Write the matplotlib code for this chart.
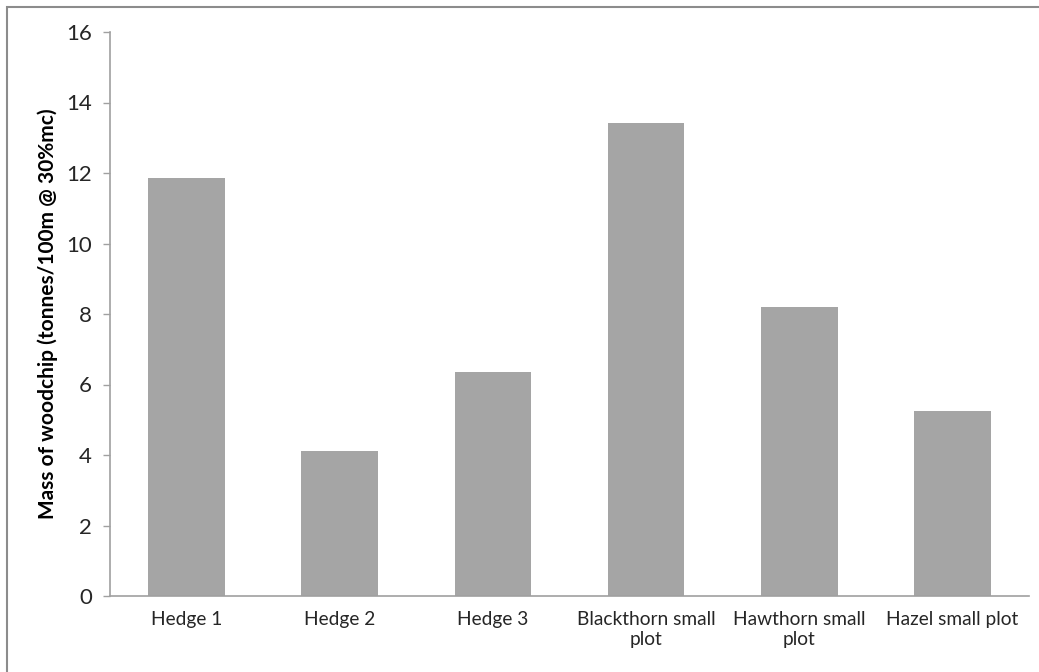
import matplotlib.pyplot as plt
from matplotlib.patches import Rectangle

plt.rcParams['font.family'] = ['Lato', 'DejaVu Sans']

# woodchip yield per site
sites = ['Hedge 1', 'Hedge 2', 'Hedge 3', 'Blackthorn small\nplot',
         'Hawthorn small\nplot', 'Hazel small plot']
mass = [11.87, 4.12, 6.35, 13.43, 8.19, 5.24]
y_ticks = [0, 2, 4, 6, 8, 10, 12, 14, 16]

fig = plt.figure(figsize=(10.39, 6.72), dpi=100)
ax = fig.add_axes([110 / 1039, 76 / 672, 919 / 1039, 564 / 672])

ax.bar(range(len(sites)), mass, width=0.5, color='#a5a5a5', zorder=2)

ax.set_xlim(-0.5, len(sites) - 0.5)
ax.set_ylim(0, 16)
ax.set_yticks(y_ticks)
ax.set_xticks(range(len(sites)))
ax.set_xticklabels(sites, fontsize=13.8, color='#262626', linespacing=1.2)
ax.tick_params(axis='y', labelsize=16, colors='#262626', length=5,
               width=1, direction='out', pad=8)
ax.tick_params(axis='y', color='#a0a0a0')
ax.tick_params(axis='x', length=0, pad=11)

for side in ['top', 'right']:
    ax.spines[side].set_visible(False)
for side in ['left', 'bottom']:
    ax.spines[side].set_color('#a0a0a0')
    ax.spines[side].set_linewidth(1.2)

ax.set_ylabel('Mass of woodchip (tonnes/100m @ 30%mc)', fontsize=15,
              fontweight='bold', color='black')
ax.yaxis.set_label_coords(-52 / 919, 0.5)

# outer chart frame
fig.patches.append(Rectangle((7 / 1039, -0.05), 1.1, 1.05 - 7 / 672,
                             transform=fig.transFigure, fill=False,
                             edgecolor='#8c8c8c', linewidth=1.5))

fig.savefig('out.png', dpi=100, facecolor='white')
